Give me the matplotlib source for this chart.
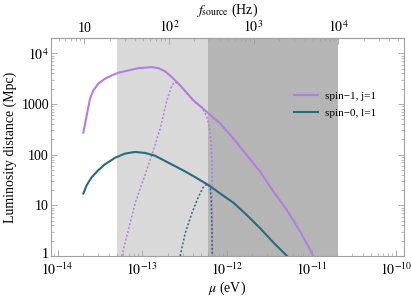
import numpy as np
import matplotlib
matplotlib.use("Agg")
import matplotlib.pyplot as plt
from matplotlib.ticker import FixedLocator, FuncFormatter, LogLocator, NullFormatter
from matplotlib.transforms import ScaledTranslation

plt.rcParams['font.family'] = ['Liberation Serif', 'DejaVu Serif']
plt.rcParams['mathtext.fontset'] = 'stix'

# ---- data ----
mu_spin1 = [2.018e-14, 2.213e-14, 2.42e-14, 2.65e-14, 3.03e-14, 3.64e-14, 4.37e-14, 5.24e-14,
            6.87e-14, 9.01e-14, 1.297e-13, 1.552e-13, 1.866e-13, 2.239e-13, 2.805e-13, 4.03e-13,
            5.81e-13, 8.34e-13, 1.197e-12, 1.722e-12, 2.477e-12, 3.556e-12, 5.12e-12, 7.35e-12,
            9.23e-12, 1.04e-11]
D_spin1 = [272, 597, 1271, 1853, 2510, 3148, 3656, 4130, 4583, 5093, 5325, 5093, 4385, 3388,
           2323, 1178, 693, 409, 207, 97.3, 45.6, 18.4, 8.05, 3.01, 1.52, 1.0]

mu_spin1_dot = [5.74e-14, 8.24e-14, 1.297e-13, 1.63e-13, 1.954e-13, 2.239e-13, 2.449e-13, 2.805e-13,
                4.03e-13, 5.06e-13, 5.81e-13, 6.22e-13, 6.47e-13, 6.65e-13, 6.70e-13, 6.76e-13]
D_spin1_dot = [1.0, 10.9, 97.3, 326, 1178, 2323, 2698, 2323, 1125, 869, 552, 351, 192, 77.6, 17.4, 1.0]

mu_spin0 = [2.018e-14, 2.213e-14, 2.535e-14, 3.03e-14, 3.64e-14, 4.79e-14, 6.28e-14, 8.24e-14,
            1.081e-13, 1.418e-13, 1.866e-13, 2.449e-13, 3.214e-13, 4.03e-13, 6.07e-13, 8.34e-13,
            1.197e-12, 1.722e-12, 2.477e-12, 3.556e-12, 5.12e-12]
D_spin0 = [17.1, 25.0, 35.9, 49.3, 64.7, 86.9, 105, 113, 108, 95.1, 74.8, 59.1, 46.5, 37.6,
           25.0, 17.1, 11.2, 6.41, 3.51, 1.83, 1.0]

mu_spin0_dot = [2.805e-13, 3.214e-13, 3.85e-13, 4.61e-13, 5.28e-13, 5.81e-13, 6.35e-13, 6.52e-13,
                6.65e-13, 6.70e-13]
D_spin0_dot = [1.0, 2.80, 6.93, 14.7, 23.1, 26.1, 23.1, 12.7, 3.78, 1.0]

band_light = (5.0e-14, 6.0e-13)
band_dark = (6.0e-13, 2.07e-11)

labels = ["spin\u22121, j=1", "spin\u22120, l=1"]
mu_ticks = [1e-14, 1e-13, 1e-12, 1e-11, 1e-10]
D_ticks = [1, 10, 100, 1000, 1e4]
f_ticks = [10, 100, 1000, 1e4]

h_eVs = 4.135667e-15
def mu2f(m):
    return 2.0 * np.asarray(m) / h_eVs
def f2mu(f):
    return np.asarray(f) * h_eVs / 2.0

purple = '#b27fdf'
teal = '#2b6a7a'
framec = '#a0a0a0'

fig = plt.figure(figsize=(4.11, 2.96), dpi=100)
ax = fig.add_axes([51/411, 40/296, 352.5/411, 218/296])
ax.set_xscale('log')
ax.set_yscale('log')
ax.set_xlim(10**-14.077, 10**-9.915)
ax.set_ylim(1, 2.0e4)

ax.axvspan(*band_light, color='#d9d9d9', lw=0, zorder=0)
ax.axvspan(*band_dark, color='#b5b5b5', lw=0, zorder=0)

ax.plot(mu_spin1, D_spin1, color=purple, lw=1.5, label=labels[0], zorder=3,
        solid_joinstyle='round')
ax.plot(mu_spin0, D_spin0, color=teal, lw=1.5, label=labels[1], zorder=3,
        solid_joinstyle='round')
ax.plot(mu_spin1_dot, D_spin1_dot, color=purple, lw=1.1, ls=(0, (1.3, 1.3)), zorder=2)
ax.plot(mu_spin0_dot, D_spin0_dot, color=teal, lw=1.1, ls=(0, (1.3, 1.3)), zorder=2)

def powfmt(v, pos):
    if v <= 0:
        return ''
    e = int(round(np.log10(v)))
    return r'$10^{%d}$' % e

def yfmt(v, pos):
    if v >= 1e4:
        return r'$10^{%d}$' % int(round(np.log10(v)))
    return '%d' % int(round(v))

def ffmt(v, pos):
    if abs(v - 10) < 1e-6:
        return '10'
    return r'$10^{%d}$' % int(round(np.log10(v)))

ax.xaxis.set_major_locator(FixedLocator(mu_ticks))
ax.xaxis.set_major_formatter(FuncFormatter(powfmt))
ax.xaxis.set_minor_locator(LogLocator(base=10, subs=np.arange(2, 10), numticks=20))
ax.xaxis.set_minor_formatter(NullFormatter())
ax.yaxis.set_major_locator(FixedLocator(D_ticks))
ax.yaxis.set_major_formatter(FuncFormatter(yfmt))
ax.yaxis.set_minor_locator(LogLocator(base=10, subs=np.arange(2, 10), numticks=20))
ax.yaxis.set_minor_formatter(NullFormatter())

ax.tick_params(which='both', direction='in', color=framec, labelsize=10)
ax.tick_params(which='major', length=4, width=0.6)
ax.tick_params(which='minor', length=2, width=0.5)
ax.tick_params(axis='x', which='both', pad=4)
ax.tick_params(axis='y', which='both', right=True, pad=1.5)
for s in ax.spines.values():
    s.set_color(framec)
    s.set_linewidth(0.8)

sec = ax.secondary_xaxis('top', functions=(mu2f, f2mu))
sec.xaxis.set_major_locator(FixedLocator(f_ticks))
sec.xaxis.set_major_formatter(FuncFormatter(ffmt))
sec.xaxis.set_minor_locator(LogLocator(base=10, subs=np.arange(2, 10), numticks=20))
sec.xaxis.set_minor_formatter(NullFormatter())
sec.tick_params(which='both', direction='in', color=framec, labelsize=10, pad=2)
sec.tick_params(which='major', length=4, width=0.6)
sec.tick_params(which='minor', length=2, width=0.5)
sec.spines['top'].set_color(framec)
sec.set_xlabel(r'$f_{\rm source}$ (Hz)', fontsize=10, labelpad=4)

ax.set_xlabel(r'$\mu$ (eV)', fontsize=10, labelpad=1)
ax.set_ylabel('Luminosity distance (Mpc)', fontsize=10, labelpad=3)

leg = ax.legend(loc='upper left', bbox_to_anchor=(0.66, 0.80), frameon=False, fontsize=8,
                handlelength=2.2, handletextpad=0.6, labelspacing=0.6)

# nudge the lowest y tick label ("1") up slightly so it clears the x tick labels
fig.canvas.draw()
t0 = ax.yaxis.get_major_ticks()[0]
t0.label1.set_transform(t0.label1.get_transform() + ScaledTranslation(0, 2.5/72, fig.dpi_scale_trans))

fig.savefig('out.png', dpi=100)
